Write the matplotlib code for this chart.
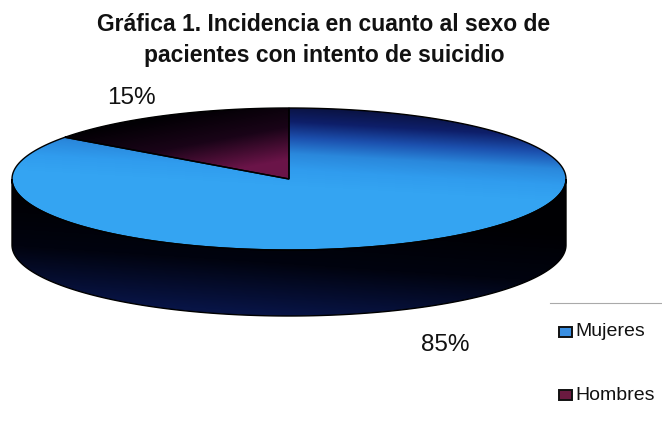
import numpy as np
import matplotlib
matplotlib.use("Agg")
import matplotlib.pyplot as plt
from matplotlib.patches import Polygon, Rectangle

plt.rcParams["font.family"] = ["Liberation Sans", "DejaVu Sans"]

labels = ["Mujeres", "Hombres"]
values = [85, 15]
pct_labels = ["85%", "15%"]
title = "Gráfica 1. Incidencia en cuanto al sexo de\npacientes con intento de suicidio"

# pie geometry in pixel units
cx, cy = 289, 179
rx, ry = 277, 71
depth = 66

W, H = 662, 421
fig = plt.figure(figsize=(W / 100, H / 100), dpi=100)
ax = fig.add_axes([0, 0, 1, 1])
ax.set_xlim(0, W)
ax.set_ylim(H, 0)
ax.axis("off")

X, Y = np.meshgrid(np.linspace(0, W, W), np.linspace(0, H, H))


def ramp(t, stops):
    t = np.clip(t, 0, 1)
    pos = np.linspace(0, 1, len(stops))
    rgb = np.array([matplotlib.colors.to_rgb(c) for c in stops])
    return np.dstack([np.interp(t, pos, rgb[:, k]) for k in range(3)])


def ellipse_pts(a0, a1, dy=0, n=200):
    th = np.radians(np.linspace(a0, a1, n))
    return np.column_stack([cx + rx * np.cos(th), cy - ry * np.sin(th) + dy])


def shade(poly_xy, img):
    patch = Polygon(poly_xy, closed=True, facecolor="none", edgecolor="none")
    ax.add_patch(patch)
    im = ax.imshow(img, extent=(0, W, H, 0), origin="upper", interpolation="bilinear", zorder=1)
    im.set_clip_path(patch)
    ax.add_patch(Polygon(poly_xy, closed=True, facecolor="none", edgecolor="#000000", lw=1.0, zorder=3))


# slices run clockwise from 12 o'clock, as in the spreadsheet
total = sum(values)
angles = [90]
for v in values:
    angles.append(angles[-1] - 360 * v / total)

# visible side wall (front half): black fading to navy at the bottom
front = ellipse_pts(180, 360)
side = np.vstack([front, ellipse_pts(360, 180, dy=depth)])
t_side = (Y - 215) / 100 + (300 - X) / 1500
shade(side, ramp(t_side, ["#000003", "#01030f", "#081445"]))

# top faces
grads = {
    "Mujeres": (
        (Y - 106) / 80 + (300 - X) / 1400,
        ["#0a1240", "#0e1f6a", "#1c50ae", "#2a88dc", "#309cee", "#34a4f2"],
    ),
    "Hombres": (
        (Y - 118) / 65 + (X - 160) / 350,
        ["#020004", "#1a0418", "#6a1448"],
    ),
}
for lab, a0, a1 in zip(labels, angles[:-1], angles[1:]):
    arc = ellipse_pts(a1, a0)
    poly = np.vstack([[cx, cy], arc])
    t, stops = grads[lab]
    shade(poly, ramp(t, stops))

# percentage labels
ax.text(131, 98, pct_labels[1], fontsize=17.5, ha="center", va="center", color="#111111")
ax.text(445, 345, pct_labels[0], fontsize=17.5, ha="center", va="center", color="#111111")

ax.text(324, 40, title, fontsize=16.5, fontweight="bold", ha="center", va="center",
        linespacing=1.4, color="#111111")

# legend
ax.plot([550, 662], [303, 303], color="#aaaaaa", lw=0.8)
leg_colors = ["#3a8fe2", "#6a1a40"]
leg_y = [332, 395]
for lab, col, y in zip(labels, leg_colors, leg_y):
    ax.add_patch(Rectangle((559, y - 5), 13, 10, facecolor=col, edgecolor="#111111", lw=1.4, zorder=4))
    ax.text(575, y, lab, fontsize=14, ha="left", va="center", color="#111111")

fig.savefig("out.png", dpi=100)
